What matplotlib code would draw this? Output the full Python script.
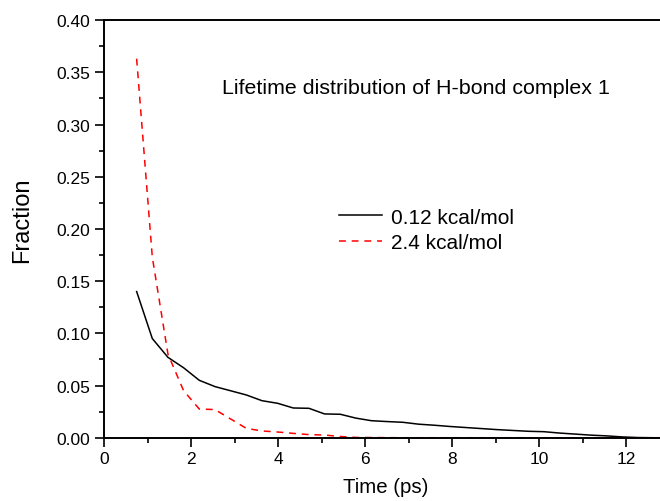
import matplotlib
matplotlib.use('Agg')
import matplotlib.pyplot as plt

# Datos (tiempo en ps)
time_ps = [0.75, 1.11, 1.47, 1.83, 2.19, 2.55, 2.91, 3.27, 3.63, 3.99, 4.35,
           4.71, 5.07, 5.43, 5.79, 6.15, 6.51, 6.87, 7.23, 7.59, 7.95, 8.31,
           8.67, 9.03, 9.39, 9.75, 10.11, 10.47, 10.83, 11.19, 11.55, 11.91,
           12.27, 12.63, 12.99]
frac_012 = [0.140, 0.095, 0.077, 0.067, 0.055, 0.049, 0.045, 0.041, 0.0355, 0.033, 0.0285,
            0.0282, 0.0228, 0.0225, 0.0188, 0.0163, 0.0155, 0.0148, 0.013, 0.012, 0.0108, 0.0098,
            0.0088, 0.0078, 0.007, 0.0062, 0.0058, 0.0045, 0.0035, 0.0025, 0.0018, 0.0008,
            0.0002, 0.0, 0.0]
frac_24 = [0.363, 0.173, 0.080, 0.045, 0.0275, 0.027, 0.018, 0.009, 0.0065, 0.0055, 0.0042,
           0.003, 0.0026, 0.0012, 0.0003, 0.0002, 0.0001, 0.0, 0.0, 0.0, 0.0, 0.0,
           0.0, 0.0, 0.0, 0.0, 0.0, 0.0, 0.0, 0.0, 0.0, 0.0,
           0.0, 0.0, 0.0]
series_labels = ['0.12 kcal/mol', '2.4 kcal/mol']

plt.rcParams['font.family'] = ['Liberation Sans', 'DejaVu Sans']

fig = plt.figure(figsize=(6.6, 5.02), dpi=100)
ax = fig.add_axes([0.1576, 0.126, 0.8424, 0.832])

ax.plot(time_ps, frac_012, color='black', lw=1.1, label=series_labels[0])
ax.plot(time_ps, frac_24, color='red', lw=1.1, dashes=(4.5, 3.8), label=series_labels[1])

ax.set_xlim(0, 12.78)
ax.set_ylim(0, 0.40)
ax.set_xticks([0, 2, 4, 6, 8, 10, 12])
ax.set_xticks([1, 3, 5, 7, 9, 11], minor=True)
ax.set_yticks([0.0, 0.05, 0.10, 0.15, 0.20, 0.25, 0.30, 0.35, 0.40])
ax.set_yticklabels(['0.00', '0.05', '0.10', '0.15', '0.20', '0.25', '0.30', '0.35', '0.40'])
ax.set_yticks([0.025 + 0.05 * i for i in range(8)], minor=True)

ax.spines['right'].set_visible(False)
for s in ['left', 'bottom', 'top']:
    ax.spines[s].set_linewidth(1.4)
ax.tick_params(which='major', direction='out', length=6.3, width=1.2, labelsize=12.5, pad=3.5)
ax.tick_params(which='minor', direction='out', length=3.4, width=1.2)
ax.tick_params(top=False, right=False, which='both')

ax.set_xlabel('Time (ps)', fontsize=14.7)
ax.xaxis.set_label_coords(0.506, -0.095)
ax.set_ylabel('Fraction', fontsize=17)
ax.yaxis.set_label_coords(-0.127, 0.5236)

ax.text(0.212, 0.825, 'Lifetime distribution of H-bond complex 1', transform=ax.transAxes,
        fontsize=15.4, va='baseline')

ax.legend(loc='upper left', bbox_to_anchor=(0.4227, 0.551), frameon=False, fontsize=15,
          handlelength=2.07, handletextpad=0.43, labelspacing=0.3, borderpad=0,
          borderaxespad=0)

fig.savefig('out.png', dpi=100)
